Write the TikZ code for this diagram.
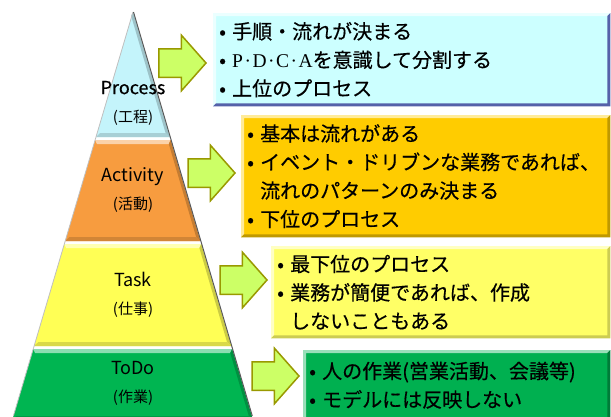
\documentclass[tikz,border=0pt]{standalone}
\usepackage{fontspec}
\setmainfont{Noto Sans CJK JP}[CharacterWidth=Proportional]
\newfontfamily\notefont{Noto Sans CJK JP}[FakeBold=0.4, CharacterWidth=Proportional]
\newfontfamily\pdcafont{Liberation Serif}
\usetikzlibrary{shapes.arrows, positioning}
\definecolor{processfill}{HTML}{C4F4FB}
\definecolor{processnote}{HTML}{CCFFFF}
\definecolor{activityfill}{HTML}{F79C3F}
\definecolor{activitynote}{HTML}{FFCC00}
\definecolor{taskfill}{HTML}{FFFF55}
\definecolor{tasknote}{HTML}{FFFF66}
\definecolor{todofill}{HTML}{00B551}
\definecolor{todonote}{HTML}{00B050}
\definecolor{arrowfill}{HTML}{CCFF66}
\definecolor{arrowline}{HTML}{999900}
\tikzset{
x=1pt, y=-1pt, % pixel-like units, y grows downwards
layerlabel/.style={align=center, font=\fontsize{18}{28}\selectfont, inner sep=0}, % text in the pyramid
note/.style={rectangle, anchor=north west, inner xsep=6, inner ysep=0, align=left, font=\notefont\fontsize{20}{28.5}\selectfont}, % boxes on the right
blockarrow/.style={single arrow, draw=arrowline, fill=arrowfill, line width=1.5, minimum height=47, inner xsep=0, inner ysep=13.5, single arrow head extend=13.5, single arrow tip angle=97, anchor=tip}, % fat arrows
}
\newcommand{\bl}{\makebox[13pt][l]{•}} % bullet
\newcommand{\cn}{\hspace*{13pt}} % hanging line
% one slice of the pyramid: colour, top y, bottom y
\newcommand{\layer}[3]{%
  \pgfmathsetmacro\xlt{133-0.296*(#2-12)}
  \pgfmathsetmacro\xrt{133+0.294*(#2-12)}
  \pgfmathsetmacro\xlb{133-0.296*(#3-12)}
  \pgfmathsetmacro\xrb{133+0.294*(#3-12)}
  \pgfmathsetmacro\xlti{133-0.296*(#2-8)+3}
  \pgfmathsetmacro\xrti{133+0.294*(#2-8)-3}
  \pgfmathsetmacro\xlbi{133-0.296*(#3-16)+3}
  \pgfmathsetmacro\xrbi{133+0.294*(#3-16)-3}
  \fill[#1] (\xlt,#2) -- (\xrt,#2) -- (\xrb,#3) -- (\xlb,#3) -- cycle;
  \fill[#1!45!white] (\xlt,#2) -- (\xrt,#2) -- (\xrti,#2+4) -- (\xlti,#2+4) -- cycle;
  \fill[#1!80!black] (\xrt,#2) -- (\xrb,#3) -- (\xrbi,#3-4) -- (\xrti,#2+4) -- cycle;
  \fill[#1!85!black] (\xlb,#3) -- (\xrb,#3) -- (\xrbi,#3-4) -- (\xlbi,#3-4) -- cycle;
}
% raised edge round a box: node, light colour, dark colour
\newcommand{\bevel}[3]{%
  \fill[#2] (#1.north west) -- (#1.north east) -- ([shift={(-3,3)}]#1.north east) -- ([shift={(3,3)}]#1.north west) -- ([shift={(3,-3)}]#1.south west) -- (#1.south west) -- cycle;
  \fill[#3] (#1.south west) -- (#1.south east) -- (#1.north east) -- ([shift={(-3,3)}]#1.north east) -- ([shift={(-3,-3)}]#1.south east) -- ([shift={(3,-3)}]#1.south west) -- cycle;
}

\begin{document}
\begin{tikzpicture}
  \useasboundingbox (0,0) rectangle (611,416);

  % pyramid
  \layer{processfill}{12}{137}
  \layer{activityfill}{140}{241}
  \layer{taskfill}{244}{346}
  \layer{todofill}{349}{420}
  \draw[gray!50, line width=0.8] (133,12) -- (13.4,416);
  \draw[black!65, line width=1] (133.5,12) -- (252.3,416);

  \node[layerlabel] (process) at (133,103) {\notefont Process\\{\fontsize{15}{28}\selectfont （工程）}};
  \node[layerlabel] (activity) at (133,189.5) {Activity\\{\fontsize{15}{28}\selectfont （活動）}};
  \node[layerlabel] (task) at (133,295) {Task\\{\fontsize{15}{28}\selectfont （仕事）}};
  \node[layerlabel] (todo) at (133,383.5) {ToDo\\{\fontsize{15}{28}\selectfont （作業）}};

  % arrows
  \node[blockarrow] (processArrow) at (207,63) {};
  \node[blockarrow] (activityArrow) at (236,173) {};
  \node[blockarrow] (taskArrow) at (268,280) {};
  \node[blockarrow] (todoArrow) at (300,376) {};

  % boxes
  \node[note, fill=processnote, minimum width=397, minimum height=93, text width=385] (processNote) at (213,13)
    {\bl 手順・流れが決まる\\
     \bl {\pdcafont\fontsize{19.5}{28.5}\selectfont P\kern1.5pt·\kern1.5pt D\kern1.5pt·\kern1.5pt C\kern1.5pt·\kern1.5pt A}を意識して分割する\\
     \bl 上位のプロセス};
  \node[note, fill=activitynote, minimum width=369, minimum height=122, text width=357] (activityNote) at (241,115)
    {\bl 基本は流れがある\\
     \bl イベント・ドリブンな業務であれば、\\
     \cn 流れのパターンのみ決まる\\
     \bl 下位のプロセス};
  \node[note, fill=tasknote, minimum width=339, minimum height=92, text width=327] (taskNote) at (271,246)
    {\bl 最下位のプロセス\\
     \bl 業務が簡便であれば、作成\\
     \cn しないこともある};
  \node[note, fill=todonote, minimum width=307, minimum height=70, text width=295] (todoNote) at (303,350)
    {\bl 人の作業（営業活動、会議等）\\
     \bl モデルには反映しない};
  \bevel{processNote}{processnote!40!white}{processnote!55!black!60!blue!70!gray}
  \bevel{activityNote}{activitynote!40!white}{activitynote!75!black}
  \bevel{taskNote}{tasknote!40!white}{tasknote!80!black}
  \bevel{todoNote}{todonote!40!white}{todonote!70!black}
\end{tikzpicture}
\end{document}
